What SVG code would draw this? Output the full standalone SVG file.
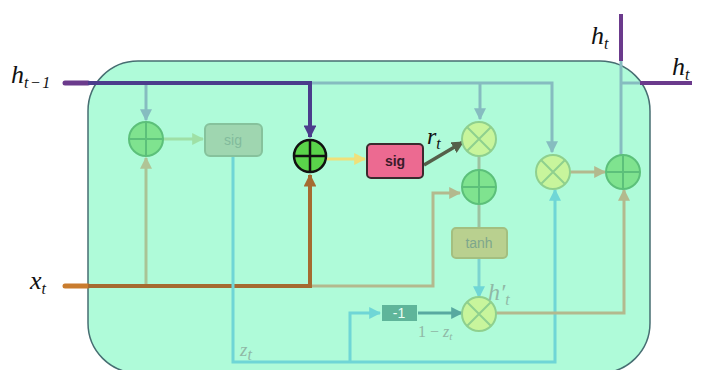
<svg xmlns="http://www.w3.org/2000/svg" width="705" height="370" viewBox="0 0 705 370">
<defs>
<style>
.lbl{font-family:"Liberation Serif","DejaVu Serif",serif;font-style:italic;fill:#111}
.sub{font-size:16px}
.box-t{font-family:"Liberation Sans","Arial",sans-serif;font-size:14px;text-anchor:middle}
.ln{fill:none;stroke-linejoin:miter}
</style>
<marker id="aBlue" viewBox="0 0 10 10" refX="9" refY="5" markerWidth="4" markerHeight="4" orient="auto"><path d="M0,0L10,5L0,10z" fill="#86bcc0"/></marker>
<marker id="aPurple" viewBox="0 0 10 10" refX="9" refY="5" markerWidth="3.2" markerHeight="3.2" orient="auto"><path d="M0,0L10,5L0,10z" fill="#4b3c8c"/></marker>
<marker id="aBrown" viewBox="0 0 10 10" refX="9" refY="5" markerWidth="3.2" markerHeight="3.2" orient="auto"><path d="M0,0L10,5L0,10z" fill="#a56a30"/></marker>
<marker id="aOlive" viewBox="0 0 10 10" refX="9" refY="5" markerWidth="4" markerHeight="4" orient="auto"><path d="M0,0L10,5L0,10z" fill="#b0c496"/></marker>
<marker id="aYellow" viewBox="0 0 10 10" refX="9" refY="5" markerWidth="4" markerHeight="4" orient="auto"><path d="M0,0L10,5L0,10z" fill="#f0e07a"/></marker>
<marker id="aDark" viewBox="0 0 10 10" refX="9" refY="5" markerWidth="3.5" markerHeight="3.5" orient="auto"><path d="M0,0L10,5L0,10z" fill="#55604a"/></marker>
<marker id="aGreen" viewBox="0 0 10 10" refX="9" refY="5" markerWidth="4" markerHeight="4" orient="auto"><path d="M0,0L10,5L0,10z" fill="#9fe0a6"/></marker>
<marker id="aCyan" viewBox="0 0 10 10" refX="9" refY="5" markerWidth="4" markerHeight="4" orient="auto"><path d="M0,0L10,5L0,10z" fill="#6fd6d6"/></marker>
<marker id="aTeal" viewBox="0 0 10 10" refX="9" refY="5" markerWidth="4" markerHeight="4" orient="auto"><path d="M0,0L10,5L0,10z" fill="#58a9a0"/></marker>
<marker id="aTan" viewBox="0 0 10 10" refX="9" refY="5" markerWidth="4" markerHeight="4" orient="auto"><path d="M0,0L10,5L0,10z" fill="#b3b98e"/></marker>
</defs>
<rect width="705" height="370" fill="#ffffff"/>
<g id="cell">
<rect x="88" y="61" width="562" height="312" rx="50" ry="50" fill="#affbd9" stroke="#476e72" stroke-width="1.5"/>
</g>
<g id="connectors">
<path class="ln" d="M310,83 H552 V152" stroke="#86bcc0" stroke-width="3" marker-end="url(#aBlue)"/>
<path class="ln" d="M480,83 V119" stroke="#86bcc0" stroke-width="3" marker-end="url(#aBlue)"/>
<path class="ln" d="M146,83 V120" stroke="#86bcc0" stroke-width="3" marker-end="url(#aBlue)"/>
<path class="ln" d="M65,83 H88" stroke="#6b3a8c" stroke-width="5" stroke-linecap="round"/>
<path class="ln" d="M88,83 H310 V137" stroke="#4b3c8c" stroke-width="4" marker-end="url(#aPurple)"/>
<path class="ln" d="M621,155 V61" stroke="#86bcc0" stroke-width="3"/>
<path class="ln" d="M621,61 V14" stroke="#6b3a8c" stroke-width="4"/>
<path class="ln" d="M621,83 H640" stroke="#86bcc0" stroke-width="3"/>
<path class="ln" d="M640,83 H692" stroke="#6b3a8c" stroke-width="4"/>
<path class="ln" d="M310,286 H433 V193 H460" stroke="#b3b98e" stroke-width="3" marker-end="url(#aTan)"/>
<path class="ln" d="M146,286 V158" stroke="#a9c496" stroke-width="3" marker-end="url(#aOlive)"/>
<path class="ln" d="M65,286 H88" stroke="#c97c2e" stroke-width="5" stroke-linecap="round"/>
<path class="ln" d="M88,286 H310 V175" stroke="#a56a30" stroke-width="4" marker-end="url(#aBrown)"/>
<path class="ln" d="M163,139 H203" stroke="#9fe0a6" stroke-width="3" marker-end="url(#aGreen)"/>
<path class="ln" d="M327,159 H365" stroke="#f0e07a" stroke-width="3" marker-end="url(#aYellow)"/>
<path class="ln" d="M424,165 L463,142" stroke="#55604a" stroke-width="3.5" marker-end="url(#aDark)"/>
<path class="ln" d="M233,157 V362 H555 V190" stroke="#6fd6d6" stroke-width="3" marker-end="url(#aCyan)"/>
<path class="ln" d="M350,362 V313 H380" stroke="#6fd6d6" stroke-width="3" marker-end="url(#aCyan)"/>
<path class="ln" d="M418,313 H462" stroke="#58a9a0" stroke-width="3" marker-end="url(#aTeal)"/>
<path class="ln" d="M479,156 V170" stroke="#9cc2a0" stroke-width="3"/>
<path class="ln" d="M479,204 V228" stroke="#9cc2a0" stroke-width="3"/>
<path class="ln" d="M479,258 V297" stroke="#7cd4d0" stroke-width="3" marker-end="url(#aCyan)"/>
<path class="ln" d="M496,313 H624 V190" stroke="#b3b98e" stroke-width="3" marker-end="url(#aTan)"/>
<path class="ln" d="M570,172 H605" stroke="#b3b98e" stroke-width="3" marker-end="url(#aTan)"/>
</g>
<g id="plus1">
<circle cx="146" cy="139" r="17" fill="#7fe38f" stroke="#5cc07a" stroke-width="2"/>
<path d="M129,139 H163 M146,122 V156" stroke="#5cc07a" stroke-width="2"/>
</g>
<g id="sig1">
<rect x="205" y="124" width="57" height="32" rx="5" fill="#9fd6b0" stroke="#86c29c" stroke-width="2"/>
<text class="box-t" x="233" y="145" fill="#82bb9c">sig</text>
</g>
<g id="plus2">
<circle cx="310" cy="156" r="16" fill="#5ad44a" stroke="#111" stroke-width="2.5"/>
<path d="M294,156 H326 M310,140 V172" stroke="#111" stroke-width="2.5"/>
</g>
<g id="sig2">
<rect x="367" y="144" width="56" height="34" rx="4" fill="#ec6a91" stroke="#3a2a2e" stroke-width="2"/>
<text class="box-t" x="395" y="166" fill="#3a1a2a" font-weight="bold">sig</text>
</g>
<g id="mul1">
<circle cx="479" cy="139" r="17" fill="#c8f59c" stroke="#8fd08e" stroke-width="2"/>
<path d="M467,127 L491,151 M491,127 L467,151" stroke="#8fd08e" stroke-width="2"/>
</g>
<g id="plus3">
<circle cx="479" cy="187" r="17" fill="#7fe38f" stroke="#5cc07a" stroke-width="2"/>
<path d="M462,187 H496 M479,170 V204" stroke="#5cc07a" stroke-width="2"/>
</g>
<g id="tanh">
<rect x="452" y="228" width="55" height="30" rx="4" fill="#b9d08f" stroke="#a3bf80" stroke-width="2"/>
<text class="box-t" x="479" y="248" fill="#7ea78c">tanh</text>
</g>
<g id="mul3">
<circle cx="479" cy="314" r="17" fill="#c8f59c" stroke="#8fd08e" stroke-width="2"/>
<path d="M467,302 L491,326 M491,302 L467,326" stroke="#8fd08e" stroke-width="2"/>
</g>
<g id="minus1">
<rect x="382" y="305" width="35" height="16" fill="#5fb59a"/>
<text class="box-t" x="399" y="318" fill="#e8fff4" font-size="13">-1</text>
</g>
<g id="mul2">
<circle cx="553" cy="172" r="17" fill="#c8f59c" stroke="#8fd08e" stroke-width="2"/>
<path d="M541,160 L565,184 M565,160 L541,184" stroke="#8fd08e" stroke-width="2"/>
</g>
<g id="plus4">
<circle cx="623" cy="172" r="17" fill="#7fe38f" stroke="#5cc07a" stroke-width="2"/>
<path d="M606,172 H640 M623,155 V189" stroke="#5cc07a" stroke-width="2"/>
</g>
<g id="labels">
<text class="lbl" x="11" y="83" font-size="26">h<tspan class="sub" dy="5" font-size="17" letter-spacing="1.5">t−1</tspan></text>
<text class="lbl" x="30" y="289" font-size="26">x<tspan class="sub" dy="5" font-size="17">t</tspan></text>
<text class="lbl" x="591" y="44" font-size="26">h<tspan class="sub" dy="5" font-size="17">t</tspan></text>
<text class="lbl" x="672" y="75" font-size="26">h<tspan class="sub" dy="5" font-size="17">t</tspan></text>
<text class="lbl" x="427" y="144" font-size="24">r<tspan class="sub" dy="5">t</tspan></text>
<text class="lbl" x="488" y="300" font-size="24" style="fill:#8fb8a6">h′<tspan class="sub" dy="5">t</tspan></text>
<text class="lbl" x="240" y="356" font-size="19" style="fill:#8fb8a6">z<tspan class="sub" dy="4" font-size="13">t</tspan></text>
<text class="lbl" x="418" y="337" font-size="16" style="fill:#8fb8a6;font-style:normal">1 − <tspan font-style="italic">z</tspan><tspan dy="3" font-size="11" font-style="italic">t</tspan></text>
</g>
</svg>
